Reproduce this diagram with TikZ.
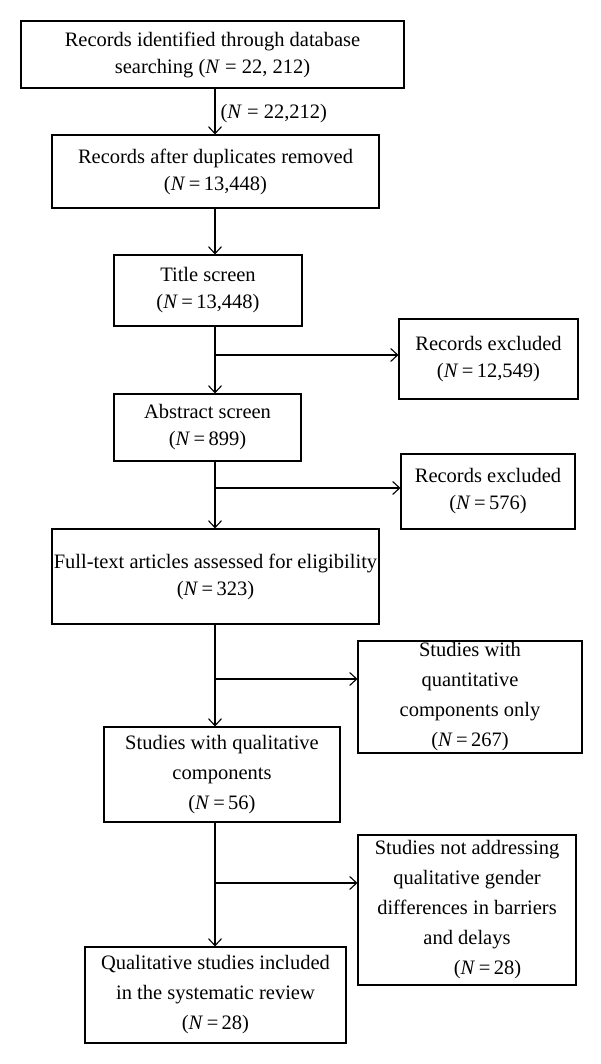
\documentclass[tikz,border=0pt]{standalone}
\usepackage{fontspec}
\setmainfont{Liberation Serif}
\usetikzlibrary{arrows.meta,positioning}

\begin{document}
\begin{tikzpicture}[
		x=1pt, y=-1pt,
		% every node/.append style={draw},
		font=\fontsize{20.5}{27}\selectfont,
		box/.style 2 args={draw, line width=1.1pt, inner sep=1pt, align=center, minimum width=#1, minimum height=#2},
		tall/.style={font=\fontsize{20.5}{30}\selectfont},
		arr/.style={line width=1.1pt, -{Straight Barb[length=7pt,width=13pt]}}
	]
	\path[fill=white] (0,0) rectangle (600,1064);
	\coordinate (spine) at (215,0);
	\node[box={383pt}{67pt}] (ident) at (212.5,54.5) {Records identified through database\\searching (\textit{N} = 22, 212)};
	\node[box={327pt}{73pt}] (dup) at (215.5,171.5) {Records after duplicates removed\\(\textit{N}\,=\,13,448)};
	\node[box={188pt}{71pt}] (title) at (208,290.5) {Title screen\\(\textit{N}\,=\,13,448)};
	\node[box={179pt}{80pt}] (excl1) at (488.5,359) {Records excluded\\(\textit{N}\,=\,12,549)};
	\node[box={187pt}{67pt}] (abs) at (207.5,427.5) {Abstract screen\\(\textit{N}\,=\,899)};
	\node[box={174pt}{75pt}] (excl2) at (488,491.5) {Records excluded\\(\textit{N}\,=\,576)};
	\node[box={327pt}{95pt}] (full) at (215.5,576.5) {Full-text articles assessed for eligibility\\(\textit{N}\,=\,323)};
	\node[box={224pt}{112pt},tall] (quant) at (470,697) {Studies with\\quantitative\\components only\\(\textit{N}\,=\,267)};
	\node[box={236pt}{95pt},tall] (qual) at (222,774.5) {Studies with qualitative\\components\\(\textit{N}\,=\,56)};
	\node[box={218pt}{150pt},tall] (notaddr) at (467,910) {Studies not addressing\\qualitative gender\\differences in barriers\\and delays\\\hspace*{2em}(\textit{N}\,=\,28)};
	\node[box={261pt}{96pt},tall] (final) at (215.5,995) {Qualitative studies included\\in the systematic review\\(\textit{N}\,=\,28)};

	\coordinate (b1) at (215,355);
	\coordinate (b2) at (215,488);
	\coordinate (b3) at (215,679);
	\coordinate (b4) at (215,883);

	\draw[arr] (ident.south -| spine) -- (dup.north -| spine) node[midway, right, inner sep=5pt, yshift=-2pt] {(\textit{N} = 22,212)};
	\draw[arr] (dup.south -| spine) -- (title.north -| spine);
	\draw[arr] (title.south -| spine) -- (abs.north -| spine);
	\draw[arr] (b1) -- (b1 -| excl1.west);
	\draw[arr] (abs.south -| spine) -- (full.north -| spine);
	\draw[arr] (b2) -- (b2 -| excl2.west);
	\draw[arr] (full.south -| spine) -- (qual.north -| spine);
	\draw[arr] (b3) -- (b3 -| quant.west);
	\draw[arr] (qual.south -| spine) -- (final.north -| spine);
	\draw[arr] (b4) -- (b4 -| notaddr.west);
\end{tikzpicture}
\end{document}
